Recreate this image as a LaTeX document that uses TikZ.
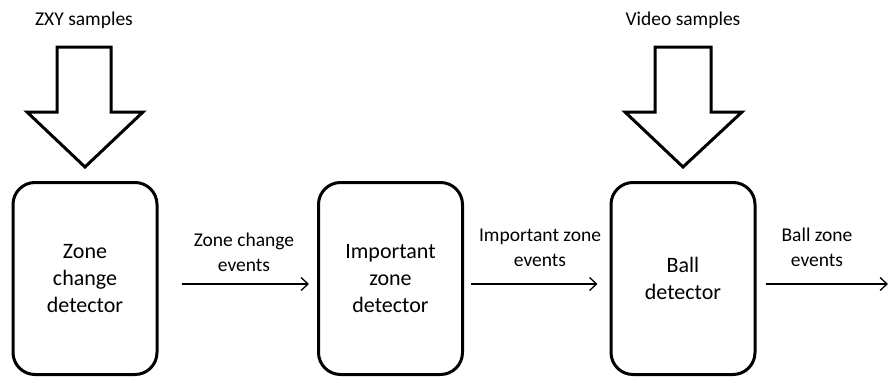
\documentclass[tikz,border=0pt]{standalone}
\usepackage{fontspec}
\setmainfont{Carlito}
\usetikzlibrary{arrows.meta}
\begin{document}
\begin{tikzpicture}[x=1pt,y=-1pt,
  stage/.style={draw, line width=3pt, rounded corners=22pt, minimum width=144pt,
    minimum height=192pt, align=center, inner sep=0pt,
    font=\fontsize{22}{27}\selectfont},
  lbl/.style={align=center, inner sep=0pt, font=\fontsize{19.5}{25}\selectfont},
  flow/.style={line width=1.3pt, -{Straight Barb[length=7pt,width=13pt,line width=1.3pt]}},
  feed/.style={draw, line width=3pt, fill=white, line join=miter}]
\useasboundingbox (0,0) rectangle (889,378);

% processing stages
\node[stage] (b1) at (85,278.5) {Zone\\change\\detector};
\node[stage] (b2) at (390.5,278.5) {Important\\zone\\detector};
\node[stage] (b3) at (683,278.5) {Ball\\detector};
\coordinate (out) at (888,284);

% event flows between stages
\draw[flow] ([shift={(23,5.5)}]b1.east) -- ([shift={(-8,5.5)}]b2.west);
\draw[flow] ([shift={(7,5.5)}]b2.east) -- ([shift={(-12,5.5)}]b3.west);
\draw[flow] ([shift={(9,5.5)}]b3.east) -- (out);

\node[lbl] (l1) at (244,252) {Zone change\\events};
\node[lbl] (l2) at (540,247.5) {Important zone\\events};
\node[lbl] (l3) at (817,247.5) {Ball zone\\events};

% sample inputs
\draw[feed] (57,47) -- (111,47) -- (111,112) -- (143,112) -- (85,167)
  -- (27,112) -- (57,112) -- cycle;
\draw[feed] (655,47) -- (711,47) -- (711,112) -- (742,112) -- (683,167)
  -- (625,112) -- (655,112) -- cycle;
\node[lbl] (s1) at (84,20) {ZXY samples};
\node[lbl] (s2) at (683,20) {Video samples};
\end{tikzpicture}
\end{document}
